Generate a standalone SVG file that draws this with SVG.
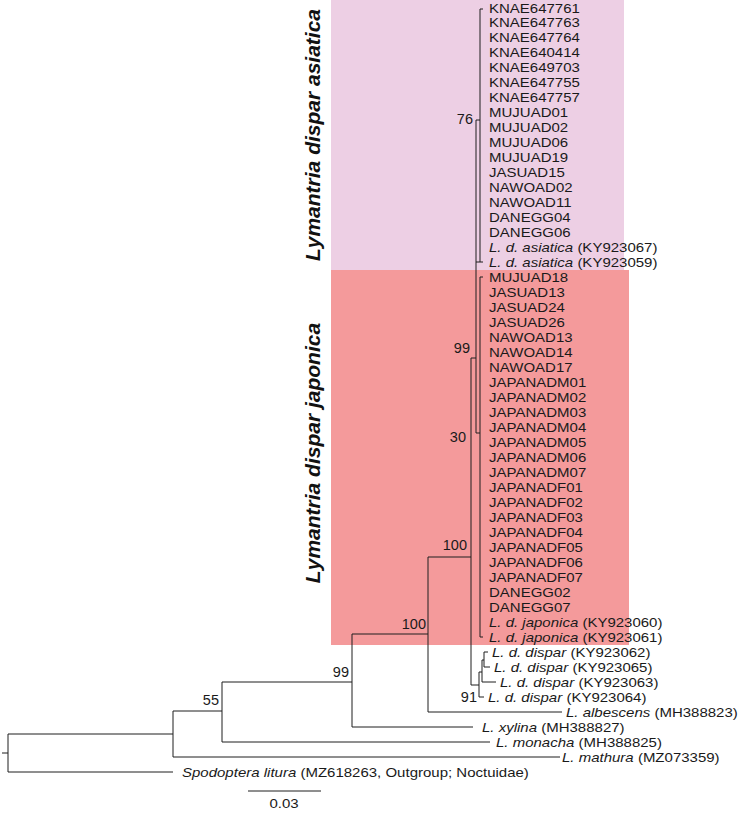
<svg xmlns="http://www.w3.org/2000/svg" width="744" height="815" viewBox="0 0 744 815">
<style>
.t{font-family:"Liberation Sans",Arial,sans-serif;font-size:13.4px;fill:#1a1a1a}
.i{font-style:italic}
.bs{font-family:"Liberation Sans",Arial,sans-serif;font-size:14.5px;fill:#1a1a1a;text-anchor:end}
.br{fill:none;stroke:#1f1f1f;stroke-width:1}
.clade{font-family:"Liberation Sans",Arial,sans-serif;font-size:21px;font-weight:bold;font-style:italic;fill:#111;text-anchor:middle}
</style>
<rect width="744" height="815" fill="#ffffff"/>
<g id="bg-asiatica"><rect x="331" y="0" width="293" height="270" fill="#EDCFE4"/></g>
<g id="bg-japonica"><rect x="331" y="270" width="298" height="375" fill="#F49A9B"/></g>
<g id="clade-labels">
<text class="clade" transform="translate(320,135) rotate(-90)">Lymantria dispar asiatica</text>
<text class="clade" transform="translate(320,453) rotate(-90)">Lymantria dispar japonica</text>
</g>
<g id="connectors">
<path class="br" d="M2,753 H8 M8,734 V772 M8,772 H173 M8,734 H173"/>
<path class="br" d="M173,711 V757 M173,757 H560 M173,711 H222"/>
<path class="br" d="M222,682 V742 M222,742 H490 M222,682 H352"/>
<path class="br" d="M352,634 V727 M352,727 H473 M352,634 H428"/>
<path class="br" d="M428,557 V712 M428,712 H562 M428,557 H471"/>
<path class="br" d="M471,358 V685 M471,358 H476"/>
<path class="br" d="M483,9 H480 V262 H483"/>
<path class="br" d="M480,120 H476 V433 H480 M476,262 H480"/>
<path class="br" d="M483,277 H480 V637 H483"/>
<path class="br" d="M471,685 H479 M479,672 V697 H484 M479,672 H482 M482,660 V682 H496 M482,660 H484 M484,652 V667 H490 M484,652 H488"/>
<path class="br" d="M248,791 H321"/>
</g>
<g id="bootstrap">
<text class="bs" x="473" y="124">76</text>
<text class="bs" x="470" y="353">99</text>
<text class="bs" x="466" y="442">30</text>
<text class="bs" x="467" y="550">100</text>
<text class="bs" x="426" y="629">100</text>
<text class="bs" x="349" y="677">99</text>
<text class="bs" x="219" y="705">55</text>
<text class="bs" x="477" y="702">91</text>
</g>
<g id="leaves-asiatica">
<text class="t" transform="translate(489 12.5) scale(1.12 1)">KNAE647761</text>
<text class="t" transform="translate(489 27) scale(1.12 1)">KNAE647763</text>
<text class="t" transform="translate(489 42) scale(1.12 1)">KNAE647764</text>
<text class="t" transform="translate(489 57) scale(1.12 1)">KNAE640414</text>
<text class="t" transform="translate(489 72) scale(1.12 1)">KNAE649703</text>
<text class="t" transform="translate(489 87) scale(1.12 1)">KNAE647755</text>
<text class="t" transform="translate(489 102) scale(1.12 1)">KNAE647757</text>
<text class="t" transform="translate(489 117) scale(1.12 1)">MUJUAD01</text>
<text class="t" transform="translate(489 132) scale(1.12 1)">MUJUAD02</text>
<text class="t" transform="translate(489 147) scale(1.12 1)">MUJUAD06</text>
<text class="t" transform="translate(489 162) scale(1.12 1)">MUJUAD19</text>
<text class="t" transform="translate(489 177) scale(1.12 1)">JASUAD15</text>
<text class="t" transform="translate(489 192) scale(1.12 1)">NAWOAD02</text>
<text class="t" transform="translate(489 207) scale(1.12 1)">NAWOAD11</text>
<text class="t" transform="translate(489 222) scale(1.12 1)">DANEGG04</text>
<text class="t" transform="translate(489 237) scale(1.12 1)">DANEGG06</text>
<text class="t" transform="translate(489 252) scale(1.12 1)"><tspan class="i">L. d. asiatica</tspan> (KY923067)</text>
<text class="t" transform="translate(489 267) scale(1.12 1)"><tspan class="i">L. d. asiatica</tspan> (KY923059)</text>
</g>
<g id="leaves-japonica">
<text class="t" transform="translate(489 282) scale(1.12 1)">MUJUAD18</text>
<text class="t" transform="translate(489 297) scale(1.12 1)">JASUAD13</text>
<text class="t" transform="translate(489 312) scale(1.12 1)">JASUAD24</text>
<text class="t" transform="translate(489 327) scale(1.12 1)">JASUAD26</text>
<text class="t" transform="translate(489 342) scale(1.12 1)">NAWOAD13</text>
<text class="t" transform="translate(489 357) scale(1.12 1)">NAWOAD14</text>
<text class="t" transform="translate(489 372) scale(1.12 1)">NAWOAD17</text>
<text class="t" transform="translate(489 387) scale(1.12 1)">JAPANADM01</text>
<text class="t" transform="translate(489 402) scale(1.12 1)">JAPANADM02</text>
<text class="t" transform="translate(489 417) scale(1.12 1)">JAPANADM03</text>
<text class="t" transform="translate(489 432) scale(1.12 1)">JAPANADM04</text>
<text class="t" transform="translate(489 447) scale(1.12 1)">JAPANADM05</text>
<text class="t" transform="translate(489 462) scale(1.12 1)">JAPANADM06</text>
<text class="t" transform="translate(489 477) scale(1.12 1)">JAPANADM07</text>
<text class="t" transform="translate(489 492) scale(1.12 1)">JAPANADF01</text>
<text class="t" transform="translate(489 507) scale(1.12 1)">JAPANADF02</text>
<text class="t" transform="translate(489 522) scale(1.12 1)">JAPANADF03</text>
<text class="t" transform="translate(489 537) scale(1.12 1)">JAPANADF04</text>
<text class="t" transform="translate(489 552) scale(1.12 1)">JAPANADF05</text>
<text class="t" transform="translate(489 567) scale(1.12 1)">JAPANADF06</text>
<text class="t" transform="translate(489 582) scale(1.12 1)">JAPANADF07</text>
<text class="t" transform="translate(489 597) scale(1.12 1)">DANEGG02</text>
<text class="t" transform="translate(489 612) scale(1.12 1)">DANEGG07</text>
<text class="t" transform="translate(489 627) scale(1.12 1)"><tspan class="i">L. d. japonica</tspan> (KY923060)</text>
<text class="t" transform="translate(489 642) scale(1.12 1)"><tspan class="i">L. d. japonica</tspan> (KY923061)</text>
</g>
<g id="leaves-other">
<text class="t" transform="translate(492 657) scale(1.12 1)"><tspan class="i">L. d. dispar</tspan> (KY923062)</text>
<text class="t" transform="translate(494 672) scale(1.12 1)"><tspan class="i">L. d. dispar</tspan> (KY923065)</text>
<text class="t" transform="translate(500 687) scale(1.12 1)"><tspan class="i">L. d. dispar</tspan> (KY923063)</text>
<text class="t" transform="translate(488 702) scale(1.12 1)"><tspan class="i">L. d. dispar</tspan> (KY923064)</text>
<text class="t" transform="translate(566 717) scale(1.12 1)"><tspan class="i">L. albescens</tspan> (MH388823)</text>
<text class="t" transform="translate(482 732) scale(1.12 1)"><tspan class="i">L. xylina</tspan> (MH388827)</text>
<text class="t" transform="translate(496 747) scale(1.12 1)"><tspan class="i">L. monacha</tspan> (MH388825)</text>
<text class="t" transform="translate(562 762) scale(1.12 1)"><tspan class="i">L. mathura</tspan> (MZ073359)</text>
<text class="t" transform="translate(182 777) scale(1.12 1)"><tspan class="i">Spodoptera litura</tspan> (MZ618263, Outgroup; Noctuidae)</text>
</g>
<g id="scale">
<text class="t" text-anchor="middle" transform="translate(284 808) scale(1.12 1)">0.03</text>
</g>
</svg>
